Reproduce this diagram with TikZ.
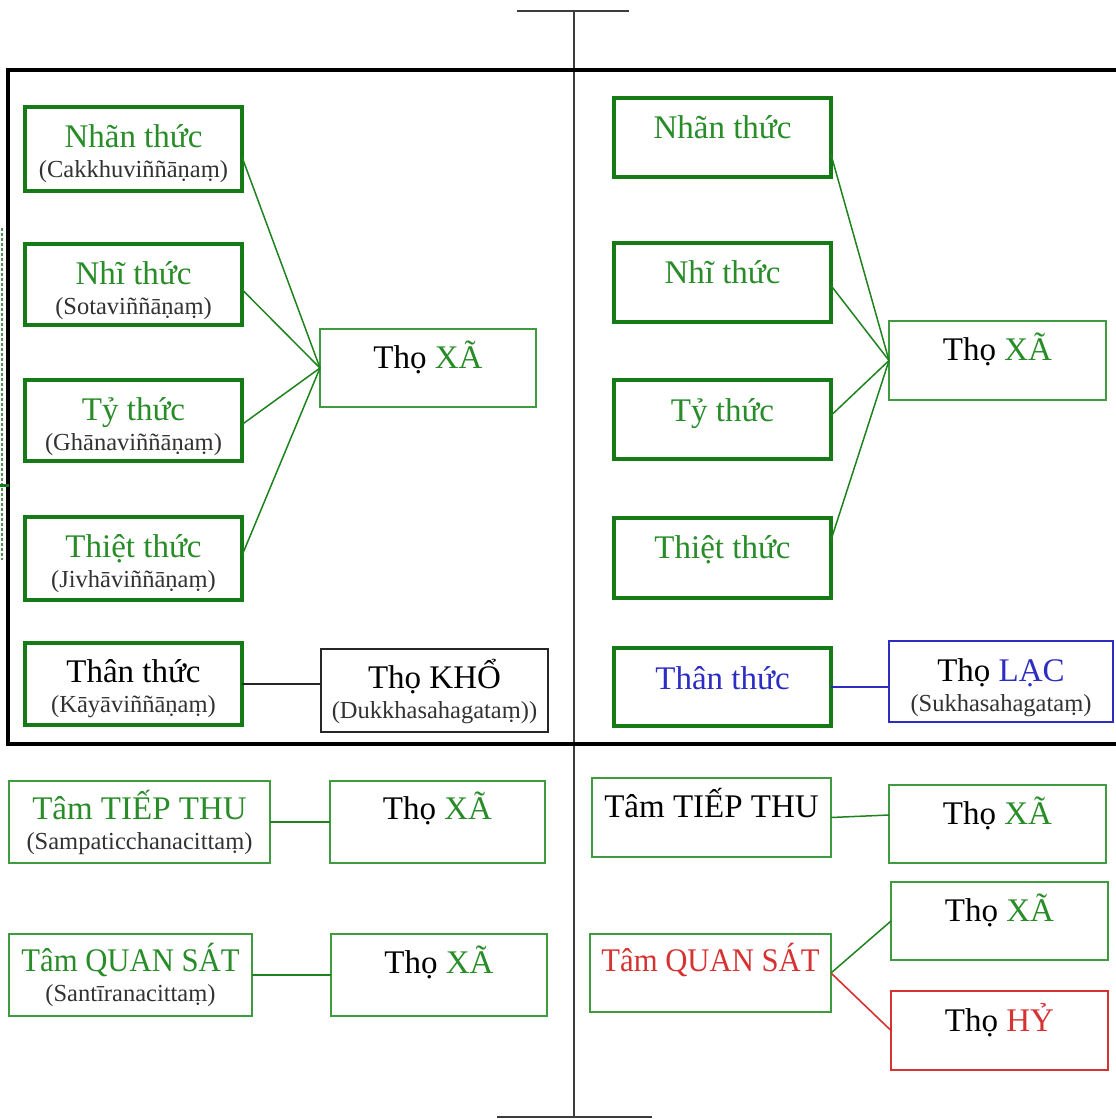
\documentclass[tikz,border=0pt]{standalone}
\usepackage{fontspec}
\usepackage{graphicx}
\setmainfont{Liberation Serif}
\definecolor{boxgreen}{RGB}{22,122,22}
\definecolor{thingreen}{RGB}{62,155,62}
\definecolor{tgreen}{RGB}{40,140,40}
\definecolor{lgreen}{RGB}{30,130,30}
\definecolor{tblue}{RGB}{45,45,195}
\definecolor{tred}{RGB}{215,50,50}
\definecolor{subgray}{RGB}{50,50,50}
\definecolor{axis}{RGB}{60,60,60}
\newcommand\mainsz{\fontsize{33}{38}\selectfont}
\newcommand\subsz{\fontsize{24.5}{30.5}\selectfont}
% slightly narrowed setting for the long capitals
\newcommand\narrow[1]{\scalebox{0.93}[1]{#1}}
% two centred lines: a heading and a Pali gloss underneath
\newcommand\twoline[2]{\parbox[t]{0pt}{\centering
  \makebox[0pt]{\mainsz #1}\par
  \subsz\makebox[0pt]{\color{subgray}#2}\par}}
\tikzset{
  bx/.style={rectangle, inner sep=0pt, outer sep=0pt, anchor=north west, font=\mainsz},
  tbox/.style={bx, draw=boxgreen, line width=4.2pt},
  nbox/.style={bx, draw=thingreen, line width=2pt},
  kbox/.style={bx, draw=black!85, line width=2pt},
  bbox/.style={bx, draw=tblue, line width=2pt},
  rbox/.style={bx, draw=tred, line width=2pt},
  gline/.style={draw=lgreen, line width=1.5pt},
  kline/.style={draw=black!85, line width=1.6pt},
  bline/.style={draw=tblue, line width=1.6pt},
  rline/.style={draw=tred, line width=1.6pt},
}
\begin{document}
\begin{tikzpicture}[x=1pt, y=-1pt]
\useasboundingbox (0,0) rectangle (1116,1119);
\clip (0,0) rectangle (1116,1119);
\fill[white] (0,0) rectangle (1116,1119);

% central axis with its end bars
\draw[axis, line width=2pt] (574,10) -- (574,1117);
\draw[axis, line width=2.4pt] (517,11) -- (629,11);
\draw[axis, line width=2.4pt] (497,1117) -- (652,1117);

% frame around the sense consciousnesses
\draw[black, line width=4pt] (8,70) rectangle (1130,744);

% edge marks on the far left
\draw[thingreen!60!gray, line width=1.4pt, densely dashed] (2,228) -- (2,560);
\draw[boxgreen, line width=3pt] (0,485) -- (9,485);

% ---- left half: sense consciousnesses ----
\node[tbox, minimum width=217pt, text height=40pt, text depth=44pt] (L1) at (25,107)
  {\twoline{\textcolor{tgreen}{Nhãn thức}}{(Cakkhuviññāṇaṃ)}};
\node[tbox, minimum width=217pt, text height=40pt, text depth=41pt] (L2) at (25,244)
  {\twoline{\textcolor{tgreen}{Nhĩ thức}}{(Sotaviññāṇaṃ)}};
\node[tbox, minimum width=217pt, text height=40pt, text depth=41pt] (L3) at (25,380)
  {\twoline{\textcolor{tgreen}{Tỷ thức}}{(Ghānaviññāṇaṃ)}};
\node[tbox, minimum width=217pt, text height=40pt, text depth=43pt] (L4) at (25,517)
  {\twoline{\textcolor{tgreen}{Thiệt thức}}{(Jivhāviññāṇaṃ)}};
\node[tbox, minimum width=217pt, text height=39pt, text depth=43pt] (L5) at (25,643)
  {\twoline{Thân thức}{(Kāyāviññāṇaṃ)}};

\node[nbox, minimum width=216pt, text height=39pt, text depth=39pt] (XL) at (320,329)
  {Thọ \textcolor{tgreen}{XÃ}};
\node[kbox, minimum width=227pt, text height=39pt, text depth=44pt] (KHO) at (321,649)
  {\twoline{Thọ KHỔ}{(Dukkhasahagataṃ))}};

\draw[gline] ([yshift=-8pt]L1.east) -- (XL.west);
\draw[gline] ([yshift=-5pt]L2.east) -- (XL.west);
\draw[gline] ([yshift=-4pt]L3.east) -- (XL.west);
\draw[gline] ([yshift=3pt]L4.east) -- (XL.west);
\draw[kline] (L5.east) -- (L5.east -| KHO.west);

% ---- right half: sense consciousnesses ----
\node[tbox, minimum width=217pt, text height=40pt, text depth=39pt] (R1) at (614,98)
  {\textcolor{tgreen}{Nhãn thức}};
\node[tbox, minimum width=217pt, text height=40pt, text depth=39pt] (R2) at (614,243)
  {\textcolor{tgreen}{Nhĩ thức}};
\node[tbox, minimum width=217pt, text height=41pt, text depth=38pt] (R3) at (614,380)
  {\textcolor{tgreen}{Tỷ thức}};
\node[tbox, minimum width=217pt, text height=40pt, text depth=40pt] (R4) at (614,518)
  {\textcolor{tgreen}{Thiệt thức}};
\node[tbox, minimum width=217pt, text height=41pt, text depth=37pt] (R5) at (614,648)
  {\textcolor{tblue}{Thân thức}};

\node[nbox, minimum width=217pt, text height=39pt, text depth=40pt] (XR) at (889,321)
  {Thọ \textcolor{tgreen}{XÃ}};
\node[bbox, minimum width=224pt, text height=40pt, text depth=41pt] (LAC) at (889,641)
  {\twoline{Thọ \textcolor{tblue}{LẠC}}{(Sukhasahagataṃ)}};

\draw[gline] ([yshift=-17pt]R1.east) -- (XR.west);
\draw[gline] ([yshift=-3pt]R2.east) -- (XR.west);
\draw[gline] ([yshift=4pt]R3.east) -- (XR.west);
\draw[gline] ([yshift=18pt]R4.east) -- (XR.west);
\draw[bline] (R5.east) -- (R5.east -| LAC.west);

% ---- left half: receiving and investigating minds ----
\node[nbox, minimum width=261pt, text height=38pt, text depth=44pt] (TTL) at (9,781)
  {\twoline{\textcolor{tgreen}{Tâm TIẾP THU}}{(Sampaticchanacittaṃ)}};
\node[nbox, minimum width=215pt, text height=38pt, text depth=44pt] (XB1) at (330,781)
  {Thọ \textcolor{tgreen}{XÃ}};
\node[nbox, minimum width=243pt, text height=37pt, text depth=45pt] (QSL) at (9,934)
  {\twoline{\narrow{\textcolor{tgreen}{Tâm QUAN SÁT}}}{(Santīranacittaṃ)}};
\node[nbox, minimum width=216pt, text height=39pt, text depth=43pt] (XB2) at (331,934)
  {Thọ \textcolor{tgreen}{XÃ}};

\draw[gline] (TTL.east) -- (XB1.west);
\draw[gline] (QSL.east) -- (XB2.west);

% ---- right half: receiving and investigating minds ----
\node[nbox, minimum width=239pt, text height=39pt, text depth=40pt] (TTR) at (592,778)
  {Tâm TIẾP THU};
\node[nbox, minimum width=217pt, text height=39pt, text depth=39pt] (XR1) at (889,785)
  {Thọ \textcolor{tgreen}{XÃ}};
\node[nbox, minimum width=241pt, text height=37pt, text depth=41pt] (QSR) at (590,934)
  {\narrow{\textcolor{tred}{Tâm QUAN SÁT}}};
\node[nbox, minimum width=217pt, text height=39pt, text depth=39pt] (XR2) at (891,882)
  {Thọ \textcolor{tgreen}{XÃ}};
\node[rbox, minimum width=217pt, text height=40pt, text depth=39pt] (HY) at (891,991)
  {Thọ \textcolor{tred}{HỶ}};

\draw[gline] (TTR.east) -- ([yshift=9pt]XR1.west);
\draw[gline] (QSR.east) -- (XR2.west);
\draw[rline] (QSR.east) -- (HY.west);
\end{tikzpicture}
\end{document}
